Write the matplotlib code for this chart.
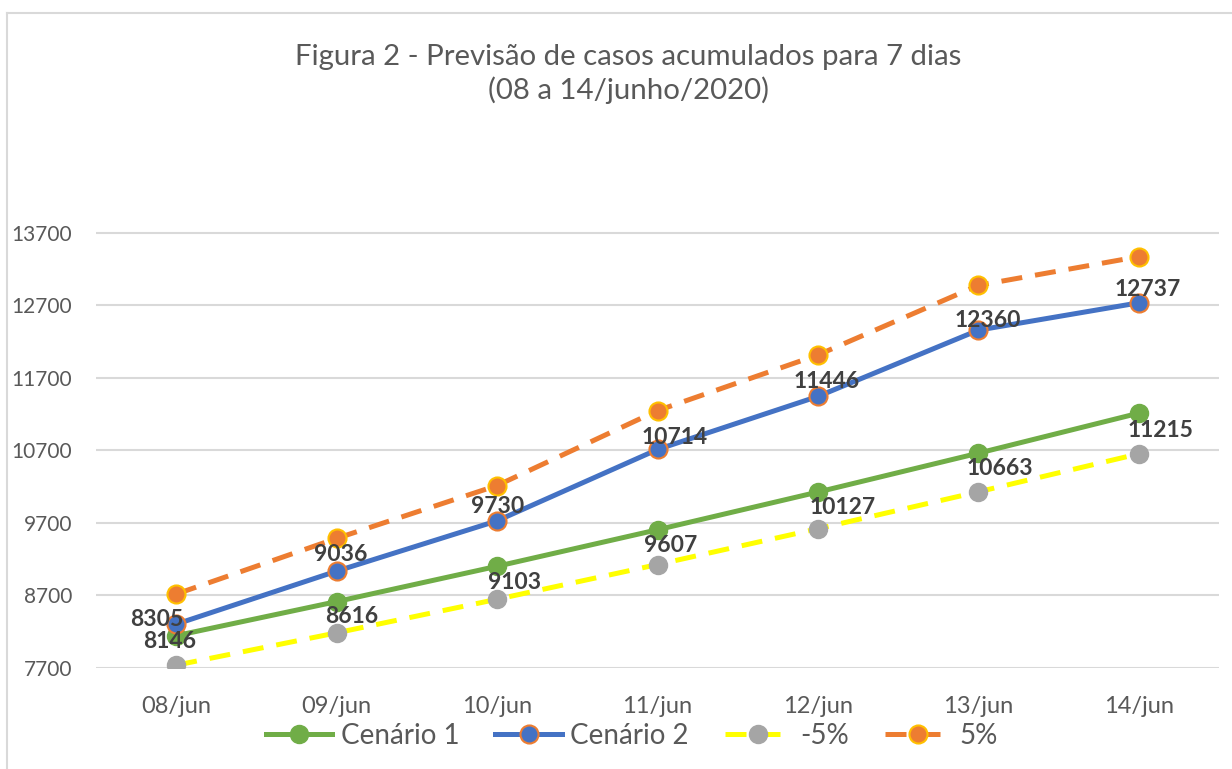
import matplotlib
matplotlib.use("Agg")
import matplotlib.pyplot as plt
from matplotlib.lines import Line2D

plt.rcParams['font.family'] = ['Lato', 'DejaVu Sans']

# ---- data ----
categories = ["08/jun", "09/jun", "10/jun", "11/jun", "12/jun", "13/jun", "14/jun"]
cenario1 = [8146, 8616, 9103, 9607, 10127, 10663, 11215]
cenario2 = [8305, 9036, 9730, 10714, 11446, 12360, 12737]
menos5 = [7739, 8185, 8648, 9127, 9621, 10130, 10654]
mais5 = [8720, 9488, 10217, 11250, 12018, 12978, 13374]
yticks = [7700, 8700, 9700, 10700, 11700, 12700, 13700]
title = "Figura 2 - Previsão de casos acumulados para 7 dias\n(08 a 14/junho/2020)"

# ---- label offsets (pixels) ----
off_c1 = [(-7, -6), (15, -15), (17, -16), (13, -16), (25, -15), (22, -15), (22, -17)]
off_c2 = [(-19, 5), (4, 17), (1, 14), (17, 12), (9, 15), (9, 10), (9, 13)]

W, H = 1232, 769
fig = plt.figure(figsize=(W / 100, H / 100), dpi=100)
ax = fig.add_axes([96 / W, 1 - 668 / H, (1219 - 96) / W, (668 - 160.5) / H])

GREEN = "#70AD47"
BLUE = "#4472C4"
ORANGE = "#ED7D31"
GOLD = "#FFC000"
GRAY = "#A5A5A5"
YELLOW = "#FFFF00"
TXT = "#595959"
LBL = "#404040"

x = list(range(len(categories)))
ms = 13
lw = 3.6

l_m5, = ax.plot(x, menos5, color=YELLOW, lw=lw, dashes=(4.2, 2.6), marker='o', ms=ms,
                mfc=GRAY, mec=GRAY, mew=1.0, zorder=3, label="-5%")
l_p5, = ax.plot(x, mais5, color=ORANGE, lw=lw, dashes=(4.2, 2.6), marker='o', ms=ms,
                mfc=ORANGE, mec=GOLD, mew=1.5, zorder=3, label="5%")
l_c1, = ax.plot(x, cenario1, color=GREEN, lw=lw, marker='o', ms=ms,
                mfc=GREEN, mec=GREEN, mew=1.0, zorder=4, label="Cenário 1")
l_c2, = ax.plot(x, cenario2, color=BLUE, lw=lw, marker='o', ms=ms,
                mfc=BLUE, mec=ORANGE, mew=1.5, zorder=4, label="Cenário 2")

for xi, v, o in zip(x, cenario1, off_c1):
    ax.annotate(str(v), (xi, v), xytext=o, textcoords='offset pixels',
                ha='center', va='center', fontsize=16.5, fontweight='bold', color=LBL, zorder=6)
for xi, v, o in zip(x, cenario2, off_c2):
    ax.annotate(str(v), (xi, v), xytext=o, textcoords='offset pixels',
                ha='center', va='center', fontsize=16.5, fontweight='bold', color=LBL, zorder=6)

ax.set_xlim(-0.5, len(categories) - 0.5)
ax.set_ylim(7700, 14700)
ax.set_yticks(yticks)
ax.set_yticklabels([str(t) for t in yticks])
ax.set_xticks(x)
ax.set_xticklabels(categories)
ax.tick_params(axis='both', length=0, colors=TXT)
ax.tick_params(axis='y', pad=17, labelsize=15)
ax.tick_params(axis='x', pad=20, labelsize=17)
ax.grid(axis='y', color="#D9D9D9", lw=1.5, zorder=0)
for s in ax.spines.values():
    s.set_visible(False)
ax.set_axisbelow(True)

fig.text(628 / W, 1 - 74 / H, title, ha='center', va='center', fontsize=21.2,
         color=TXT, linespacing=1.3)

leg = fig.legend(handles=[l_c1, l_c2, l_m5, l_p5], loc='center',
                 bbox_to_anchor=(632 / W, 1 - 736 / H), ncol=4, frameon=False,
                 fontsize=20, handlelength=2.4, handletextpad=0.3, columnspacing=1.3,
                 labelcolor=TXT)

# border
fig.add_artist(Line2D([7 / W, 1], [1 - 12.5 / H, 1 - 12.5 / H], color="#D9D9D9", lw=1.5,
                      transform=fig.transFigure))
fig.add_artist(Line2D([7 / W, 7 / W], [0, 1 - 12.5 / H], color="#D9D9D9", lw=1.5,
                      transform=fig.transFigure))

fig.savefig("out.png", dpi=100, facecolor="white")
